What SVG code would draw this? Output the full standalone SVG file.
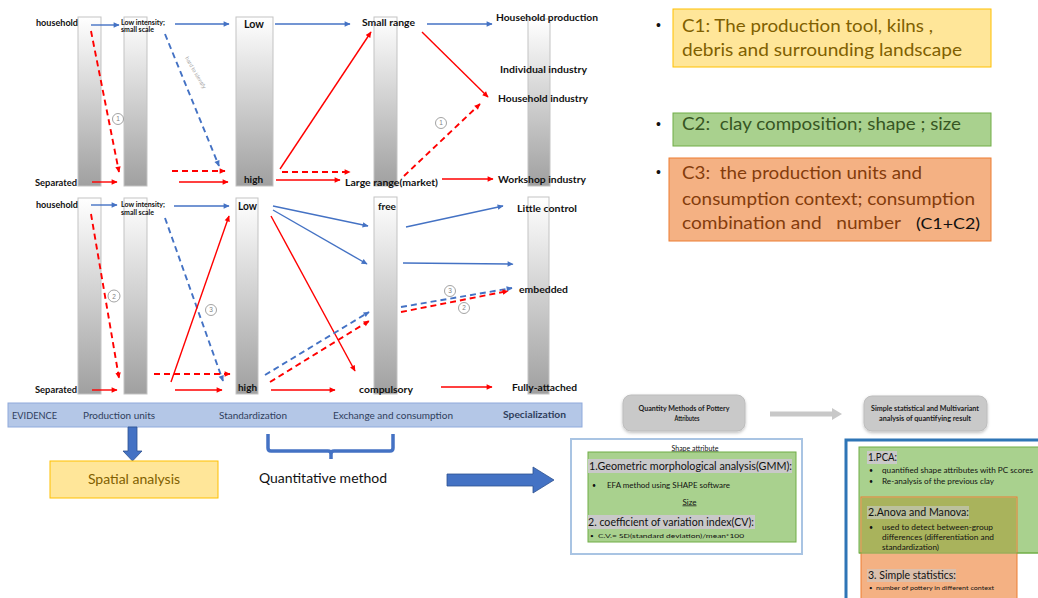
<svg xmlns="http://www.w3.org/2000/svg" width="1038" height="598" viewBox="0 0 1038 598">
<defs>
  <linearGradient id="barFill" x1="0" y1="0" x2="0" y2="1">
    <stop offset="0" stop-color="#ffffff"/>
    <stop offset="1" stop-color="#a0a0a0"/>
  </linearGradient>
  <marker id="headB" viewBox="0 0 10 10" refX="9" refY="5" markerWidth="7" markerHeight="6" markerUnits="userSpaceOnUse" orient="auto">
    <path d="M0,0.5 L10,5 L0,9.5z" fill="#4472c4"/>
  </marker>
  <marker id="headR" viewBox="0 0 10 10" refX="9" refY="5" markerWidth="7" markerHeight="6" markerUnits="userSpaceOnUse" orient="auto">
    <path d="M0,0.5 L10,5 L0,9.5z" fill="#ff0000"/>
  </marker>
  <filter id="soft" x="-10%" y="-20%" width="120%" height="150%">
    <feDropShadow dx="0" dy="1.5" stdDeviation="1.5" flood-color="#000" flood-opacity="0.25"/>
  </filter>
</defs>
<style>
  .bar{fill:url(#barFill);stroke:#c3c3c3;stroke-width:1}
  .t{font-family:Lato,"Liberation Sans",sans-serif;font-weight:bold;fill:#111}
  .t9{font-size:9.5px}
  .t6{font-size:6.5px}
  .blue{stroke:#4472c4;stroke-width:1.4;fill:none;marker-end:url(#headB)}
  .red{stroke:#ff0000;stroke-width:1.4;fill:none;marker-end:url(#headR)}
  .dash{stroke-dasharray:6 4;stroke-width:1.9}
  .num circle{fill:#fff;stroke:#8c8c8c;stroke-width:0.8}
  .num text{font-family:"Liberation Sans",sans-serif;font-size:6.5px;fill:#7f7f7f;text-anchor:middle}
  .ev{font-family:Lato,"Liberation Sans",sans-serif;font-size:8.5px;fill:#2f3e5c}
  .big{font-family:Lato,"Open Sans",sans-serif;font-size:17.5px;white-space:pre}
  .body{font-family:Lato,"Liberation Sans",sans-serif;fill:#111}
  .hl{fill:#c9c9c9}
  .gbox{fill:#c9c9c9;stroke:#bdbdbd;stroke-width:1}
  .gtxt{font-family:Lato,"Liberation Sans",sans-serif;font-weight:bold;font-size:6.5px;fill:#222;text-anchor:middle}
</style>

<!-- upper chain: production units to specialization -->
<g id="top-household-bar">
  <rect class="bar" x="78" y="17" width="23" height="169"/>
  <text class="t t9" x="36" y="25.5" textLength="42" lengthAdjust="spacingAndGlyphs">household</text>
  <text class="t t9" x="35" y="185.5" textLength="42" lengthAdjust="spacingAndGlyphs">Separated</text>
</g>
<g id="top-intensity-bar">
  <rect class="bar" x="124" y="17" width="23" height="169"/>
  <text class="t t6" x="121" y="24.5" textLength="44" lengthAdjust="spacingAndGlyphs">Low intensity;</text>
  <text class="t t6" x="121" y="31.5" textLength="33" lengthAdjust="spacingAndGlyphs">small scale</text>
</g>
<g id="top-standardization-bar">
  <rect class="bar" x="236" y="17" width="37" height="169"/>
  <text class="t" font-size="10.5" x="244" y="28" textLength="20" lengthAdjust="spacingAndGlyphs">Low</text>
  <text class="t" font-size="10" x="244" y="183" textLength="19" lengthAdjust="spacingAndGlyphs">high</text>
</g>
<g id="top-exchange-bar">
  <rect class="bar" x="374" y="17" width="23" height="169"/>
  <text class="t t9" x="362" y="25.5" textLength="53" lengthAdjust="spacingAndGlyphs">Small range</text>
  <text class="t t9" x="345" y="185.5" textLength="93" lengthAdjust="spacingAndGlyphs">Large range(market)</text>
</g>
<g id="top-specialization-bar">
  <rect class="bar" x="528" y="19" width="22" height="167"/>
  <text class="t t9" x="496" y="20.5" textLength="102" lengthAdjust="spacingAndGlyphs">Household production</text>
  <text class="t t9" x="500" y="73" textLength="87" lengthAdjust="spacingAndGlyphs">Individual industry</text>
  <text class="t t9" x="498" y="101.5" textLength="90" lengthAdjust="spacingAndGlyphs">Household industry</text>
  <text class="t t9" x="498" y="182.5" textLength="88" lengthAdjust="spacingAndGlyphs">Workshop industry</text>
</g>

<!-- lower chain -->
<g id="bottom-household-bar">
  <rect class="bar" x="78" y="198" width="23" height="196"/>
  <text class="t t9" x="36" y="207.5" textLength="42" lengthAdjust="spacingAndGlyphs">household</text>
  <text class="t t9" x="35" y="392.5" textLength="42" lengthAdjust="spacingAndGlyphs">Separated</text>
</g>
<g id="bottom-intensity-bar">
  <rect class="bar" x="124" y="198" width="23" height="196"/>
  <text class="t t6" x="121" y="206.5" textLength="44" lengthAdjust="spacingAndGlyphs">Low intensity;</text>
  <text class="t t6" x="121" y="214.5" textLength="33" lengthAdjust="spacingAndGlyphs">small scale</text>
</g>
<g id="bottom-standardization-bar">
  <rect class="bar" x="236" y="198" width="22" height="196"/>
  <text class="t" font-size="10.5" x="238" y="210" textLength="19" lengthAdjust="spacingAndGlyphs">Low</text>
  <text class="t" font-size="10" x="238" y="390.5" textLength="19" lengthAdjust="spacingAndGlyphs">high</text>
</g>
<g id="bottom-exchange-bar">
  <rect class="bar" x="374" y="197" width="23" height="197"/>
  <text class="t t9" x="378" y="209.5" textLength="18" lengthAdjust="spacingAndGlyphs">free</text>
  <text class="t t9" x="359" y="392.5" textLength="54" lengthAdjust="spacingAndGlyphs">compulsory</text>
</g>
<g id="bottom-specialization-bar">
  <rect class="bar" x="528" y="197" width="21" height="197"/>
  <text class="t t9" x="517" y="211.5" textLength="60" lengthAdjust="spacingAndGlyphs">Little control</text>
  <text class="t t9" x="519" y="292.5" textLength="49" lengthAdjust="spacingAndGlyphs">embedded</text>
  <text class="t t9" x="512" y="390.5" textLength="65" lengthAdjust="spacingAndGlyphs">Fully-attached</text>
</g>

<g id="connectors">
  <!-- upper chain -->
  <line class="blue" x1="91" y1="25" x2="119" y2="25"/>
  <line class="blue" x1="175" y1="24" x2="229" y2="24"/>
  <line class="red dash" x1="91" y1="31" x2="119" y2="172"/>
  <line class="blue dash" x1="165" y1="34" x2="219" y2="166"/>
  <line class="red dash" x1="172" y1="171" x2="225" y2="171"/>
  <line class="red" x1="92" y1="182" x2="117" y2="182"/>
  <line class="red" x1="179" y1="182" x2="228" y2="182"/>
  <line class="blue" x1="275" y1="24" x2="350" y2="24"/>
  <line class="red" x1="280" y1="169" x2="371" y2="32"/>
  <line class="red dash" x1="282" y1="172" x2="350" y2="172"/>
  <line class="red" x1="276" y1="180" x2="340" y2="180"/>
  <line class="blue" x1="427" y1="24" x2="492" y2="24"/>
  <line class="red" x1="422" y1="32" x2="488" y2="97"/>
  <line class="red dash" x1="404" y1="176" x2="480" y2="104"/>
  <line class="red" x1="442" y1="179" x2="493" y2="179"/>
  <!-- lower chain -->
  <line class="blue" x1="91" y1="205" x2="117" y2="205"/>
  <line class="blue" x1="174" y1="206" x2="229" y2="206"/>
  <line class="red dash" x1="91" y1="214" x2="119" y2="378"/>
  <line class="blue dash" x1="165" y1="218" x2="223" y2="381"/>
  <line class="red" x1="171" y1="382" x2="229" y2="216"/>
  <line class="red dash" x1="154" y1="374" x2="230" y2="374"/>
  <line class="red" x1="92" y1="390" x2="117" y2="390"/>
  <line class="red" x1="175" y1="390" x2="222" y2="390"/>
  <line class="blue" x1="273" y1="206" x2="368" y2="226"/>
  <line class="blue" x1="273" y1="210" x2="367" y2="264"/>
  <line class="red" x1="271" y1="216" x2="355" y2="371"/>
  <line class="blue dash" x1="265" y1="375" x2="369" y2="312"/>
  <line class="red dash" x1="270" y1="382" x2="369" y2="321"/>
  <line class="red" x1="271" y1="390" x2="335" y2="390"/>
  <line class="blue" x1="406" y1="227" x2="503" y2="206"/>
  <line class="blue" x1="403" y1="263" x2="513" y2="264"/>
  <line class="blue dash" x1="401" y1="307" x2="512" y2="288"/>
  <line class="red dash" x1="401" y1="312" x2="508" y2="291"/>
  <line class="red" x1="441" y1="387" x2="492" y2="387"/>
  <!-- path markers -->
  <g class="num"><circle cx="118" cy="119" r="5.5"/><text x="118" y="121.3">1</text></g>
  <g class="num"><circle cx="441" cy="123" r="5.5"/><text x="441" y="125.3">1</text></g>
  <g class="num"><circle cx="114" cy="296" r="6"/><text x="114" y="298.5">2</text></g>
  <g class="num"><circle cx="211" cy="310" r="5.5"/><text x="211" y="312.3">3</text></g>
  <g class="num"><circle cx="450" cy="291" r="5.5"/><text x="450" y="293.3">3</text></g>
  <g class="num"><circle cx="464" cy="308" r="5.5"/><text x="464" y="310.3">2</text></g>
  <text x="185" y="58" transform="rotate(60 185 58)" font-family="Liberation Sans,sans-serif" font-size="5.5" fill="#a6a6a6">hard to identify</text>
</g>

<!-- evidence strip -->
<g id="evidence">
  <rect x="8" y="403" width="574" height="24" fill="#b4c7e7" stroke="#8faadc" stroke-width="1"/>
  <text class="ev" x="12" y="419" textLength="45" lengthAdjust="spacingAndGlyphs">EVIDENCE</text>
  <text class="ev" x="83" y="419" textLength="72" lengthAdjust="spacingAndGlyphs">Production units</text>
  <text class="ev" x="219" y="419" textLength="68" lengthAdjust="spacingAndGlyphs">Standardization</text>
  <text class="ev" x="333" y="419" textLength="120" lengthAdjust="spacingAndGlyphs">Exchange and consumption</text>
  <text class="ev" x="503" y="418" font-weight="bold" textLength="63" lengthAdjust="spacingAndGlyphs">Specialization</text>
</g>

<g id="spatial-analysis">
  <path d="M128,427 H137 V451 H142 L132.5,461 L123,451 H128 Z" fill="#4472c4" stroke="#2f528f" stroke-width="0.8"/>
  <rect x="50" y="461" width="168" height="37" fill="#ffe699" stroke="#ffc000" stroke-width="1"/>
  <text x="134" y="484" text-anchor="middle" font-family="Lato,'Open Sans',sans-serif" font-size="14" fill="#7f6000">Spatial analysis</text>
</g>

<g id="quantitative-method">
  <path d="M268,434 V448 Q268,451 271,451 H328 Q331,451 331,454 V459 M331,454 Q331,451 334,451 H390 Q393,451 393,448 V434" fill="none" stroke="#4472c4" stroke-width="3.5"/>
  <text x="323" y="483" text-anchor="middle" font-family="Lato,'Open Sans',sans-serif" font-size="14" fill="#111">Quantitative method</text>
  <path d="M447,474 H533 V467 L554,480 L533,493 V486 H447 Z" fill="#4472c4" stroke="#2f528f" stroke-width="0.8"/>
</g>

<!-- criteria boxes -->
<g id="c1">
  <text x="656" y="30" font-family="Liberation Sans,sans-serif" font-size="14" fill="#111">•</text>
  <rect x="673" y="9" width="318" height="58" fill="#ffe699" stroke="#ffc000" stroke-width="1"/>
  <text class="big" x="682" y="32" fill="#7f6000" textLength="251" lengthAdjust="spacingAndGlyphs">C1: The production tool, kilns ,</text>
  <text class="big" x="682" y="56" fill="#7f6000" textLength="280" lengthAdjust="spacingAndGlyphs">debris and surrounding landscape</text>
</g>
<g id="c2">
  <text x="656" y="129" font-family="Liberation Sans,sans-serif" font-size="14" fill="#111">•</text>
  <rect x="673" y="113" width="318" height="33" fill="#a9d18e" stroke="#70ad47" stroke-width="1"/>
  <text class="big" x="682" y="130" fill="#375623" textLength="279" lengthAdjust="spacingAndGlyphs" xml:space="preserve">C2:  clay composition; shape ; size</text>
</g>
<g id="c3">
  <text x="656" y="177" font-family="Liberation Sans,sans-serif" font-size="14" fill="#111">•</text>
  <rect x="669" y="158" width="322" height="83" fill="#f4b183" stroke="#ed7d31" stroke-width="1"/>
  <text class="big" x="682" y="179" fill="#843c0c" textLength="240" lengthAdjust="spacingAndGlyphs" xml:space="preserve">C3:  the production units and</text>
  <text class="big" x="682" y="205" fill="#843c0c" textLength="293" lengthAdjust="spacingAndGlyphs">consumption context; consumption</text>
  <text class="big" x="682" y="229" fill="#843c0c" textLength="219" lengthAdjust="spacingAndGlyphs" xml:space="preserve">combination and   number</text>
  <text x="916" y="229" font-family="Lato,'Open Sans',sans-serif" font-size="15.5" fill="#111" textLength="64" lengthAdjust="spacingAndGlyphs">(C1+C2)</text>
</g>

<!-- method headers -->
<g id="quantity-methods">
  <rect class="gbox" x="623" y="395" width="122" height="36" rx="8" filter="url(#soft)"/>
  <text class="gtxt" x="684" y="410.5" textLength="91" lengthAdjust="spacingAndGlyphs">Quantity Methods of Pottery</text>
  <text class="gtxt" x="687" y="420.5" textLength="25" lengthAdjust="spacingAndGlyphs">Attributes</text>
</g>
<path d="M770,411.5 H832 V408 L842,414 L832,420 V416.5 H770 Z" fill="#c8c8c8"/>
<g id="statistical-analysis">
  <rect class="gbox" x="864" y="396" width="123" height="35" rx="8" filter="url(#soft)"/>
  <text class="gtxt" x="925" y="410.5" textLength="108" lengthAdjust="spacingAndGlyphs">Simple statistical and Multivariant</text>
  <text class="gtxt" x="925" y="420.5" textLength="92" lengthAdjust="spacingAndGlyphs">analysis of quantifying result</text>
</g>

<g id="shape-attribute">
  <rect x="571" y="439" width="231" height="115" fill="#ffffff" stroke="#a9c4e3" stroke-width="2"/>
  <text class="body" x="695" y="450.5" text-anchor="middle" font-size="7.5" text-decoration="underline" textLength="47" lengthAdjust="spacingAndGlyphs">Shape attribute</text>
  <rect x="588" y="452" width="208" height="90" fill="#a9d18e" stroke="#70ad47" stroke-width="1"/>
  <rect class="hl" x="588" y="459" width="204" height="14"/>
  <text class="body" x="589" y="470" font-size="12" textLength="203" lengthAdjust="spacingAndGlyphs">1.Geometric morphological analysis(GMM):</text>
  <text class="body" x="592" y="487.5" font-size="7">•</text>
  <text class="body" x="607" y="487.5" font-size="7" textLength="123" lengthAdjust="spacingAndGlyphs">EFA method using SHAPE software</text>
  <text class="body" x="689.5" y="504.5" text-anchor="middle" font-size="7" text-decoration="underline" textLength="14" lengthAdjust="spacingAndGlyphs">Size</text>
  <rect class="hl" x="588" y="515" width="167" height="14"/>
  <text class="body" x="588" y="526" font-size="12" textLength="166" lengthAdjust="spacingAndGlyphs">2. coefficient of variation index(CV):</text>
  <text class="body" x="590" y="537.5" font-size="6.5">•</text>
  <text class="body" x="598" y="537.5" font-size="6.5" textLength="146" lengthAdjust="spacingAndGlyphs">C.V.= SD(standard deviation)/mean*100</text>
</g>

<g id="statistics-panel">
  <rect x="846" y="440" width="200" height="170" fill="#ffffff" stroke="#2e75b6" stroke-width="3"/>
  <rect x="859" y="447" width="190" height="106" fill="#a9d18e" stroke="#70ad47" stroke-width="1"/>
  <rect x="861" y="497" width="156" height="110" fill="#f4b183" stroke="#ed7d31" stroke-width="1"/>
  <rect x="861.5" y="497.5" width="155" height="55" fill="#a9b35c"/>
  <line x1="859" y1="553" x2="1038" y2="553" stroke="#70ad47" stroke-width="1"/>
  <rect class="hl" x="867" y="451" width="30" height="13"/>
  <text class="body" x="868" y="461" font-size="11" textLength="29" lengthAdjust="spacingAndGlyphs">1.PCA:</text>
  <text class="body" x="869" y="472.5" font-size="7">•</text>
  <text class="body" x="882" y="472.5" font-size="7" textLength="151" lengthAdjust="spacingAndGlyphs">quantified shape attributes with PC scores</text>
  <text class="body" x="869" y="483.5" font-size="7">•</text>
  <text class="body" x="882" y="483.5" font-size="7" textLength="112" lengthAdjust="spacingAndGlyphs">Re-analysis of the previous clay</text>
  <rect class="hl" x="867" y="506" width="102" height="13" fill-opacity="0.6"/>
  <text class="body" x="868" y="516" font-size="11" textLength="101" lengthAdjust="spacingAndGlyphs">2.Anova and Manova:</text>
  <text class="body" x="869" y="529.5" font-size="7">•</text>
  <text class="body" x="882" y="529.5" font-size="7" textLength="111" lengthAdjust="spacingAndGlyphs">used to detect between-group</text>
  <text class="body" x="882" y="539.5" font-size="7" textLength="112" lengthAdjust="spacingAndGlyphs">differences (differentiation and</text>
  <text class="body" x="882" y="549.5" font-size="7" textLength="57" lengthAdjust="spacingAndGlyphs">standardization)</text>
  <rect class="hl" x="867" y="569" width="89" height="13" fill-opacity="0.6"/>
  <text class="body" x="868" y="579" font-size="11" textLength="88" lengthAdjust="spacingAndGlyphs">3. Simple statistics:</text>
  <text class="body" x="869" y="590" font-size="6">•</text>
  <text class="body" x="876" y="590" font-size="6" textLength="118" lengthAdjust="spacingAndGlyphs">number of pottery in different context</text>
</g>
</svg>
